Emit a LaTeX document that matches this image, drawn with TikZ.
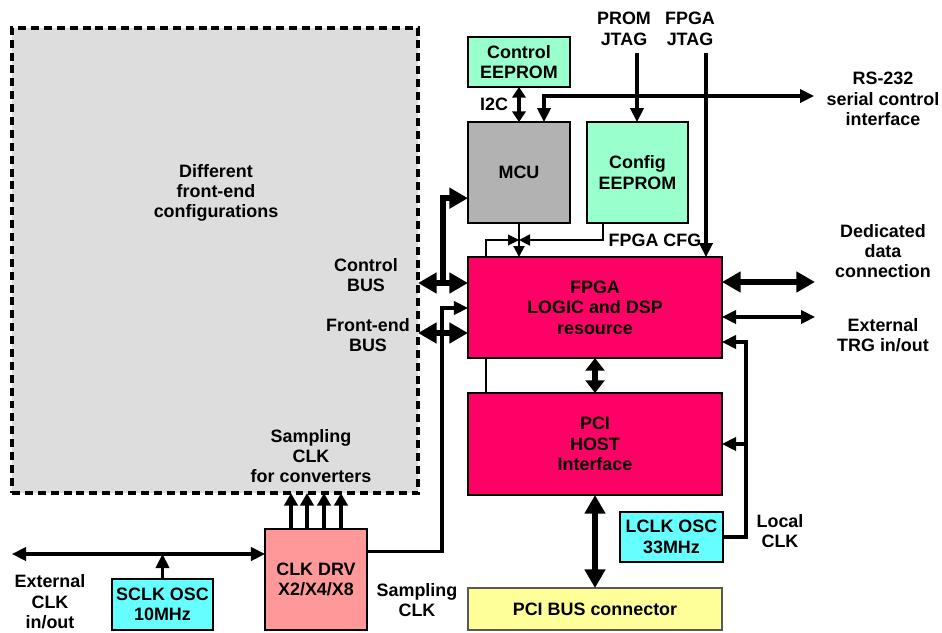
\documentclass[tikz,border=0pt]{standalone}
\usepackage{fontspec}
\setmainfont{Liberation Sans}
\usepackage{tikz}
\usetikzlibrary{arrows.meta, calc}
\definecolor{FrontGray}{HTML}{DDDDDD}
\definecolor{McuGray}{HTML}{B2B2B2}
\definecolor{RomMint}{HTML}{99FFCC}
\definecolor{LogicPink}{HTML}{FF0066}
\definecolor{DrvSalmon}{HTML}{FF9999}
\definecolor{OscCyan}{HTML}{66FFFF}
\definecolor{ConnYellow}{HTML}{FFFF99}
\tikzset{
  blockbox/.style={rectangle, draw=black, line width=2.5pt, inner sep=0pt, outer sep=0pt, align=center},
  frontbox/.style={rectangle, draw=black, fill=FrontGray, line width=2.6pt, dash pattern=on 6.8pt off 4.2pt, minimum width=12.18cm, minimum height=13.95cm, inner sep=0pt, outer sep=0pt},
  mcubox/.style={blockbox, fill=McuGray, minimum width=3.06cm, minimum height=3.03cm},
  rombox/.style={blockbox, fill=RomMint},
  logicbox/.style={blockbox, fill=LogicPink, minimum width=7.62cm},
  oscbox/.style={blockbox, fill=OscCyan},
  drvbox/.style={blockbox, fill=DrvSalmon, minimum width=3.06cm, minimum height=3.03cm},
  connbox/.style={blockbox, draw=black!65, line width=1.7pt, fill=ConnYellow, minimum width=7.62cm, minimum height=1.26cm},
  notetext/.style={align=center, inner sep=0pt},
  sig/.style={line width=2.6pt, >={Triangle[length=0.42cm,width=0.4cm]}},
  bus/.style={line width=5pt, >={Triangle[length=0.56cm,width=0.6cm]}},
  shortbus/.style={line width=5pt, >={Triangle[length=0.38cm,width=0.56cm]}},
  i2cbus/.style={line width=3.6pt, >={Triangle[length=0.32cm,width=0.4cm]}},
  clkline/.style={line width=2.8pt, >={Triangle[length=0.38cm,width=0.4cm]}},
  cfgline/.style={line width=1.8pt, >={Triangle[length=0.33cm,width=0.33cm]}},
  hairline/.style={line width=0.9pt, >={Triangle[length=0.33cm,width=0.33cm]}}
}
\begin{document}
\begin{tikzpicture}[x=0.03cm, y=-0.03cm, font=\fontsize{15.3}{17.4}\selectfont\bfseries]
  \useasboundingbox (0,0) rectangle (942,632);

  \node[frontbox] (front) at (215,260.5) {};
  \node[notetext] (difflbl) at (216,193) {Different\\front-end\\configurations};
  \node[notetext] (ctrlbuslbl) at (366,275) {Control\\BUS};
  \node[notetext] (febuslbl) at (368,335) {Front-end\\BUS};
  \node[notetext] (samplbl) at (311,456) {Sampling\\CLK\\for converters};

  \node[rombox, minimum width=3.06cm, minimum height=1.5cm] (ctrlrom) at (519,62) {Control\\EEPROM};
  \node[mcubox] (mcu) at (519,172.5) {MCU};
  \node[rombox, minimum width=3.03cm, minimum height=3.03cm] (cfgrom) at (637.5,172.5) {Config\\EEPROM};
  \node[logicbox, minimum height=3.03cm] (fpga) at (595,307.5) {FPGA\\LOGIC and DSP\\resource};
  \node[logicbox, minimum height=3.06cm] (pci) at (595,444) {PCI\\HOST\\Interface};
  \node[connbox] (pcibus) at (595,609) {PCI BUS connector};
  \node[oscbox, minimum width=3.09cm, minimum height=1.5cm] (lclk) at (671.5,537) {LCLK OSC\\33MHz};
  \node[drvbox] (clkdrv) at (316,579.5) {CLK DRV\\X2/X4/X8};
  \node[oscbox, minimum width=3.03cm, minimum height=1.53cm] (sclk) at (162.5,604.5) {SCLK OSC\\10MHz};

  \node[notetext] (i2clbl) at (494,104) {I2C};
  \node[notetext] (promlbl) at (624,29) {PROM\\JTAG};
  \node[notetext] (fpgajtaglbl) at (690,29) {FPGA\\JTAG};
  \node[notetext] (cfglbl) at (655,240) {FPGA CFG};
  \node[notetext] (rslbl) at (883,99) {RS-232\\serial control\\interface};
  \node[notetext] (ddlbl) at (883,251) {Dedicated\\data\\connection};
  \node[notetext] (trglbl) at (883,335) {External\\TRG in/out};
  \node[notetext] (localclklbl) at (780,531) {Local\\CLK};
  \node[notetext] (extclklbl) at (50,602) {External\\CLK\\in/out};
  \node[notetext] (sampclklbl) at (417,600) {Sampling\\CLK};

  \draw[i2cbus, <->] (ctrlrom.south) -- (mcu.north);
  \coordinate (rsend) at (814,96);
  \draw[sig, <->] ([xshift=0.75cm]mcu.north) |- (rsend);
  \coordinate (promjtag) at (637,53);
  \draw[sig, ->] (promjtag) -- (promjtag |- cfgrom.north);
  \coordinate (fpgajtag) at (706,53);
  \draw[sig, ->] (fpgajtag) -- (fpgajtag |- fpga.north);

  \coordinate (jtagjn) at (519,240);
  \draw[cfgline, ->] (mcu.south) -- (mcu.south |- fpga.north);
  \draw[cfgline, ->] ([xshift=-1.04cm]cfgrom.south) |- (jtagjn);
  \draw[hairline, ->] ([xshift=0.54cm]fpga.north west) |- (jtagjn);
  \draw[hairline] ([xshift=0.54cm]fpga.south west) -- ([xshift=0.54cm]pci.north west);

  \coordinate (cbjn) at (443,283);
  \draw[bus, <->] (cbjn -| front.east) -- (cbjn -| fpga.west);
  \draw[bus, ->] (cbjn) |- ([yshift=-0.77cm]mcu.west);
  \coordinate (febus) at (443,333);
  \draw[bus, <->] (febus -| front.east) -- (febus -| fpga.west);

  \coordinate (sckjn) at (442,308);
  \draw[sig, ->] ([yshift=0.85cm]clkdrv.east) -| (sckjn) -- (sckjn -| fpga.west);
  \foreach \dx in {-25,-9,8,25} {
    \coordinate (ck) at ([xshift=\dx*0.03cm]clkdrv.north);
    \draw[clkline, ->] (ck) -- (ck |- front.south);
  }
  \coordinate (extclk) at (12,554);
  \draw[sig, <->] (extclk) -- (extclk -| clkdrv.west);
  \draw[sig, ->] (sclk.north) -- (sclk.north |- extclk);

  \draw[shortbus, <->] (fpga.south) -- (pci.north);
  \draw[bus, <->] (pci.south) -- (pcibus.north);

  \coordinate (lcjn) at (746,342);
  \draw[sig, ->] (lclk.east) -| (lcjn) -- (lcjn -| fpga.east);
  \draw[sig, ->] (lcjn |- pci.east) -- (pci.east);

  \coordinate (ddend) at (815,282);
  \draw[bus, <->] (ddend -| fpga.east) -- (ddend);
  \coordinate (trgend) at (815,317);
  \draw[sig, <->] (trgend -| fpga.east) -- (trgend);
\end{tikzpicture}
\end{document}
